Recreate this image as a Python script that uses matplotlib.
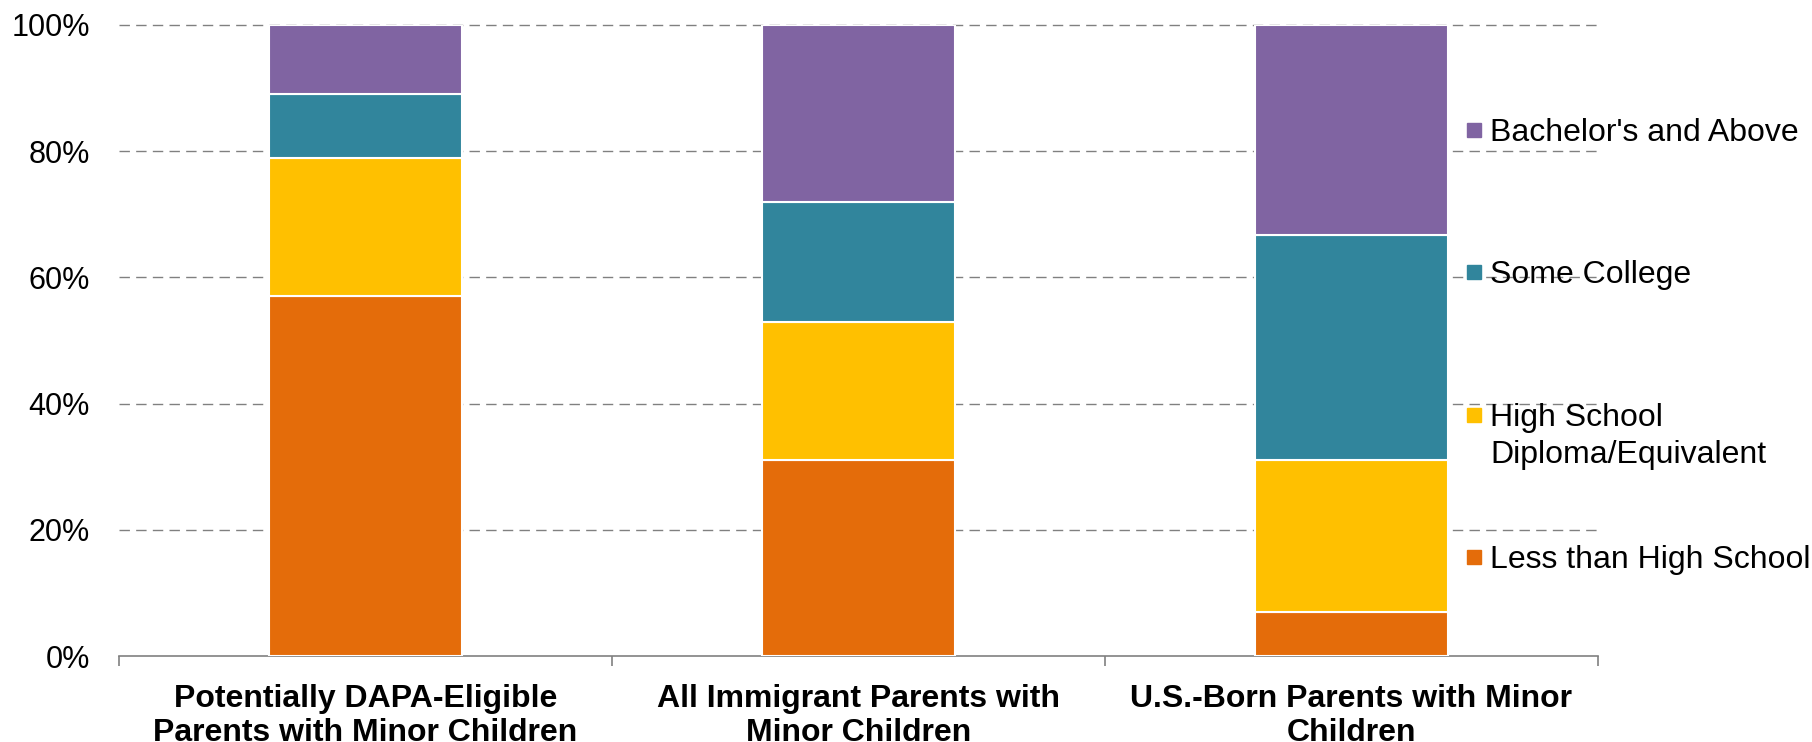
import matplotlib
matplotlib.use("Agg")
import matplotlib.pyplot as plt
import numpy as np
from matplotlib.lines import Line2D

plt.rcParams['font.family'] = ['Liberation Sans', 'DejaVu Sans']

categories = ["Potentially DAPA-Eligible\nParents with Minor Children",
              "All Immigrant Parents with\nMinor Children",
              "U.S.-Born Parents with Minor\nChildren"]
series_names = ["Less than High School", "High School\nDiploma/Equivalent",
                "Some College", "Bachelor's and Above"]
less_than_hs = [57, 31, 7]
high_school = [22, 22, 24]
some_college = [10, 19, 35.7]
bachelors = [11, 28, 33.3]
colors = ["#E46C0A", "#FFC000", "#31859C", "#8064A2"]
yticks = [0, 20, 40, 60, 80, 100]
ytick_labels = ["0%", "20%", "40%", "60%", "80%", "100%"]

W, H = 1812, 742
fig = plt.figure(figsize=(W / 100, H / 100), dpi=100)
ax = fig.add_axes([119 / W, 1 - 656 / H, (1598 - 119) / W, (656 - 25) / H])

x = np.arange(len(categories))
bottom = np.zeros(len(categories))
for vals, col in zip([less_than_hs, high_school, some_college, bachelors], colors):
    ax.bar(x, vals, width=0.393, bottom=bottom, color=col, edgecolor="white",
           linewidth=1.5, zorder=3)
    bottom += np.array(vals)

ax.set_xlim(-0.5, len(categories) - 0.5)
ax.set_ylim(0, 100)
ax.set_yticks(yticks)
ax.set_yticklabels(ytick_labels, fontsize=22)
for yv in yticks[1:]:
    ax.axhline(yv, color="#808080", linestyle=(0, (7.5, 4.5)), linewidth=1.0, zorder=1,
               clip_on=False)

ax.set_xticks(x)
ax.set_xticklabels(categories, fontsize=23, fontweight="bold", linespacing=1.15)
ax.set_xticks(np.arange(-0.5, len(categories), 1.0), minor=True)
ax.tick_params(axis="x", which="major", length=0, pad=20.5)
ax.tick_params(axis="x", which="minor", length=7.5, color="#808080", width=1.2)
ax.tick_params(axis="y", length=0, pad=21)

for s in ["top", "right", "left"]:
    ax.spines[s].set_visible(False)
ax.spines["bottom"].set_color("#808080")
ax.spines["bottom"].set_linewidth(1.2)

# legend (manual, top to bottom)
leg_items = list(zip(series_names, colors))[::-1]
centers = [130, 272, 415, 557]
for (name, col), cy in zip(leg_items, centers):
    fig.add_artist(Line2D([1474 / W], [1 - cy / H], marker="s", markersize=10,
                          color=col, linestyle="none", transform=fig.transFigure))
    for i, line in enumerate(name.split("\n")):
        fig.text(1490 / W, 1 - (cy + 11 + 37 * i) / H, line, fontsize=23,
                 va="baseline", ha="left")

fig.savefig("out.png", dpi=100)
